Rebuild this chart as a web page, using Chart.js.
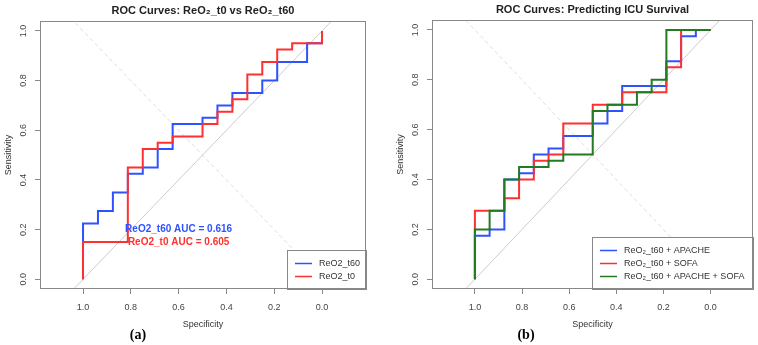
<!DOCTYPE html>
<html>
<head>
<meta charset="utf-8">
<script src="https://cdn.jsdelivr.net/npm/chart.js@4.4.0/dist/chart.umd.min.js"></script>
<style>
  body { margin: 0; background: #fff; }
  .panel { position: absolute; top: 0; width: 379px; height: 345px; }
  .tag { position: absolute; top: 327px; width: 40px; text-align: center; line-height: 16px;
         font: bold 14px "Liberation Serif", "Times New Roman", serif; color: #000; }
</style>
</head>
<body>
<div class="panel" style="left:0">
  <canvas id="roc-a" width="379" height="345"></canvas>
  <div class="tag" style="left:118px">(a)</div>
</div>
<div class="panel" style="left:379px">
  <canvas id="roc-b" width="379" height="345"></canvas>
  <div class="tag" style="left:127px">(b)</div>
</div>
<script>
Chart.defaults.font.family = '"Liberation Sans", Arial, sans-serif';

// axis ticks
const tickVals = [0, 0.2, 0.4, 0.6, 0.8, 1.0];

// (a) ReO2_t60
const specT60 = [1, 1, 0.9375, 0.9375, 0.875, 0.875, 0.8125, 0.8125, 0.75, 0.75, 0.6875, 0.6875, 0.625, 0.625, 0.5, 0.5, 0.4375, 0.4375, 0.375, 0.375, 0.25, 0.25, 0.1875, 0.1875, 0.0625, 0.0625, 0, 0];
const sensT60 = [0, 0.225, 0.225, 0.275, 0.275, 0.35, 0.35, 0.425, 0.425, 0.45, 0.45, 0.525, 0.525, 0.625, 0.625, 0.65, 0.65, 0.70, 0.70, 0.75, 0.75, 0.80, 0.80, 0.875, 0.875, 0.95, 0.95, 1];
// (a) ReO2_t0
const specT0 = [1, 1, 0.8125, 0.8125, 0.75, 0.75, 0.6875, 0.6875, 0.625, 0.625, 0.5, 0.5, 0.4375, 0.4375, 0.375, 0.375, 0.3125, 0.3125, 0.25, 0.25, 0.1875, 0.1875, 0.125, 0.125, 0, 0];
const sensT0 = [0, 0.15, 0.15, 0.45, 0.45, 0.525, 0.525, 0.55, 0.55, 0.575, 0.575, 0.625, 0.625, 0.675, 0.675, 0.725, 0.725, 0.825, 0.825, 0.875, 0.875, 0.925, 0.925, 0.95, 0.95, 1];

// (b) ReO2_t60 + APACHE
const specApache = [1, 1, 0.9375, 0.9375, 0.875, 0.875, 0.8125, 0.8125, 0.75, 0.75, 0.6875, 0.6875, 0.625, 0.625, 0.5, 0.5, 0.4375, 0.4375, 0.375, 0.375, 0.1875, 0.1875, 0.125, 0.125, 0.0625, 0.0625, 0];
const sensApache = [0, 0.175, 0.175, 0.2, 0.2, 0.4, 0.4, 0.425, 0.425, 0.5, 0.5, 0.525, 0.525, 0.575, 0.575, 0.625, 0.625, 0.675, 0.675, 0.775, 0.775, 0.875, 0.875, 0.975, 0.975, 1, 1];
// (b) ReO2_t60 + SOFA
const specSofa = [1, 1, 0.875, 0.875, 0.8125, 0.8125, 0.75, 0.75, 0.6875, 0.6875, 0.625, 0.625, 0.5, 0.5, 0.375, 0.375, 0.1875, 0.1875, 0.125, 0.125, 0];
const sensSofa = [0, 0.275, 0.275, 0.325, 0.325, 0.4, 0.4, 0.475, 0.475, 0.5, 0.5, 0.625, 0.625, 0.70, 0.70, 0.75, 0.75, 0.85, 0.85, 1, 1];
// (b) ReO2_t60 + APACHE + SOFA
const specBoth = [1, 1, 0.9375, 0.9375, 0.875, 0.875, 0.8125, 0.8125, 0.6875, 0.6875, 0.625, 0.625, 0.5, 0.5, 0.4375, 0.4375, 0.3125, 0.3125, 0.25, 0.25, 0.1875, 0.1875, 0];
const sensBoth = [0, 0.2, 0.2, 0.275, 0.275, 0.4, 0.4, 0.45, 0.45, 0.475, 0.475, 0.5, 0.5, 0.675, 0.675, 0.70, 0.70, 0.75, 0.75, 0.8, 0.8, 1, 1];

// chance line and its mirror (dashed)
const chanceSpec = [1.3, -0.3];
const chanceSens = [-0.3, 1.3];
const mirrorSpec = [-0.3, 1.3];
const mirrorSens = [-0.3, 1.3];

const legendA = ['ReO2_t60', 'ReO2_t0'];
const legendB = ['ReO\u2082_t60 + APACHE', 'ReO\u2082_t60 + SOFA', 'ReO\u2082_t60 + APACHE + SOFA'];
const aucLabels = ['ReO2_t60 AUC = 0.616', 'ReO2_t0 AUC = 0.605'];
const aucSpec = 0.6;
const aucSens = [0.2, 0.15];

const BLUE = '#2f52ff', RED = '#ff3030', GREEN = '#227a22';

function toPts(xs, ys) {
    return xs.map((v, i) => ({ x: v, y: ys[i] }));
}

// frame, legend box and AUC labels, drawn on top of the curves
function decor(items, box, notes) {
    return {
        id: 'decor',
        afterDatasetsDraw(chart) {
            const { ctx, chartArea: a, scales } = chart;
            ctx.save();
            const lx = Math.round(a.right - box.w), ly = Math.round(a.bottom - box.h);
            ctx.fillStyle = '#fff';
            ctx.fillRect(lx, ly, box.w, box.h);
            ctx.strokeStyle = '#888';
            ctx.lineWidth = 1;
            ctx.strokeRect(lx + 0.5, ly + 0.5, box.w, box.h);
            ctx.font = '9px "Liberation Sans", Arial, sans-serif';
            ctx.textBaseline = 'middle';
            ctx.textAlign = 'left';
            items.forEach((it, i) => {
                const y = Math.round(ly + 13 + i * 12.8);
                ctx.strokeStyle = it.color;
                ctx.lineWidth = 1.5;
                ctx.beginPath();
                ctx.moveTo(lx + 8, y + 0.5);
                ctx.lineTo(lx + 25, y + 0.5);
                ctx.stroke();
                ctx.fillStyle = '#333';
                ctx.fillText(it.text, lx + 32, y + 0.5);
            });
            ctx.strokeStyle = '#888';
            ctx.lineWidth = 1;
            ctx.strokeRect(Math.round(a.left) + 0.5, Math.round(a.top) + 0.5,
                Math.round(a.width) - 1, Math.round(a.height) - 1);
            if (notes) {
                ctx.font = 'bold 10px "Liberation Sans", Arial, sans-serif';
                ctx.textAlign = 'center';
                notes.forEach((n) => {
                    ctx.fillStyle = n.color;
                    ctx.fillText(n.text, scales.x.getPixelForValue(n.x), scales.y.getPixelForValue(n.y));
                });
            }
            ctx.restore();
        }
    };
}

function rocChart(id, title, series, cfg) {
    const datasets = series.map((s) => ({
        data: toPts(s.spec, s.sens),
        borderColor: s.color,
        borderWidth: 2,
        pointRadius: 0,
        showLine: true,
        fill: false,
        borderJoinStyle: 'miter'
    }));
    datasets.push({
        data: toPts(chanceSpec, chanceSens),
        borderColor: '#cccccc', borderWidth: 1, pointRadius: 0, showLine: true
    });
    datasets.push({
        data: toPts(mirrorSpec, mirrorSens),
        borderColor: '#dddddd', borderWidth: 1, borderDash: [4, 3], pointRadius: 0, showLine: true
    });

    return new Chart(document.getElementById(id), {
        type: 'scatter',
        data: { datasets: datasets },
        options: {
            responsive: false,
            animation: false,
            events: [],
            layout: { padding: { left: cfg.padLeft, right: cfg.padRight, top: 0, bottom: 14 } },
            plugins: {
                legend: { display: false },
                tooltip: { enabled: false },
                title: {
                    display: true,
                    text: title,
                    fullSize: false,
                    color: '#222',
                    font: { size: 11, weight: 'bold' },
                    padding: { top: cfg.titleTop, bottom: cfg.titleBottom }
                }
            },
            scales: {
                x: {
                    type: 'linear',
                    reverse: true,
                    min: cfg.xMin,
                    max: cfg.xMax,
                    afterBuildTicks: (s) => { s.ticks = tickVals.map((v) => ({ value: v })); },
                    afterFit: (s) => { s.height = 42; },
                    ticks: {
                        autoSkip: false, maxRotation: 0, padding: 8,
                        color: '#444', font: { size: 9 },
                        callback: (v) => Number(v).toFixed(1)
                    },
                    grid: { drawOnChartArea: false, tickLength: 5, color: '#888' },
                    border: { display: false },
                    title: {
                        display: true, text: 'Specificity', color: '#333',
                        font: { size: 9 }, padding: { top: 0, bottom: 0.6 }
                    }
                },
                y: {
                    type: 'linear',
                    min: -0.039,
                    max: 1.04,
                    afterBuildTicks: (s) => { s.ticks = tickVals.map((v) => ({ value: v })); },
                    afterFit: (s) => { s.width = 40; },
                    ticks: {
                        autoSkip: false, minRotation: 90, maxRotation: 90,
                        crossAlign: 'center', padding: 5.5,
                        color: '#444', font: { size: 9 },
                        callback: (v) => Number(v).toFixed(1)
                    },
                    grid: { drawOnChartArea: false, tickLength: 5, color: '#888' },
                    border: { display: false },
                    title: {
                        display: true, text: 'Sensitivity', color: '#333',
                        font: { size: 9 }, padding: { top: 3.1, bottom: 0 }
                    }
                }
            }
        },
        plugins: [decor(cfg.legend, cfg.box, cfg.notes)]
    });
}

// red drawn over blue
rocChart('roc-a', 'ROC Curves: ReO\u2082_t0 vs ReO\u2082_t60', [
    { spec: specT0, sens: sensT0, color: RED },
    { spec: specT60, sens: sensT60, color: BLUE }
], {
    padLeft: 0, padRight: 13, titleTop: 4, titleBottom: 3.8,
    xMin: -0.184, xMax: 1.18,
    box: { w: 79, h: 39 },
    legend: [{ text: legendA[0], color: BLUE }, { text: legendA[1], color: RED }],
    notes: [
        { text: aucLabels[0], color: BLUE, x: aucSpec, y: aucSens[0] },
        { text: aucLabels[1], color: RED, x: aucSpec, y: aucSens[1] }
    ]
});

// green over red over blue
rocChart('roc-b', 'ROC Curves: Predicting ICU Survival', [
    { spec: specBoth, sens: sensBoth, color: GREEN },
    { spec: specSofa, sens: sensSofa, color: RED },
    { spec: specApache, sens: sensApache, color: BLUE }
], {
    padLeft: 13, padRight: 5, titleTop: 3.5, titleBottom: 3.3,
    xMin: -0.18, xMax: 1.182,
    box: { w: 161, h: 52 },
    legend: [
        { text: legendB[0], color: BLUE },
        { text: legendB[1], color: RED },
        { text: legendB[2], color: GREEN }
    ],
    notes: null
});
</script>
</body>
</html>
